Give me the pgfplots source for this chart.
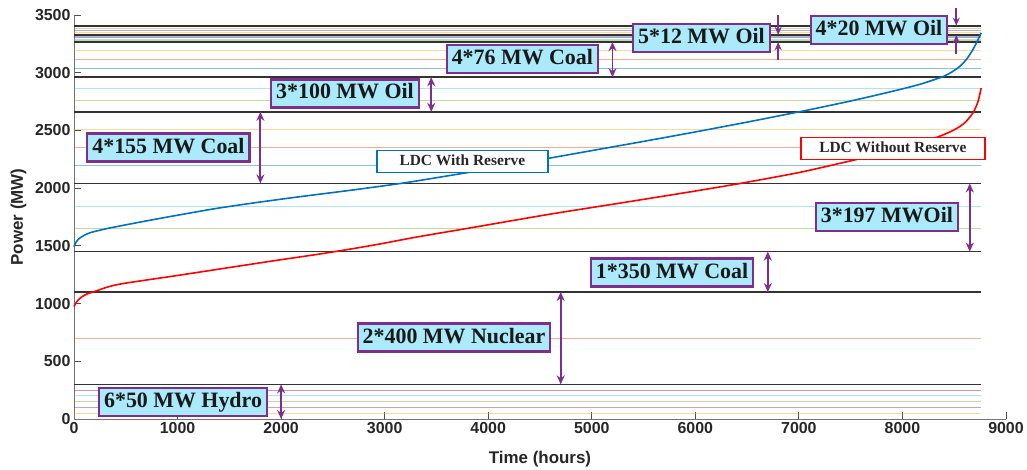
\documentclass[border=0pt]{standalone}
\usepackage{pgfplots}
\pgfplotsset{compat=1.18}
\usepackage{fontspec}
\setmainfont{Liberation Sans}
\newfontfamily\boxfont{Liberation Serif}
\usetikzlibrary{arrows.meta}
\definecolor{mblue}{RGB}{0,114,189}
\definecolor{morange}{RGB}{217,83,25}
\definecolor{myellow}{RGB}{237,177,32}
\definecolor{mpurple}{RGB}{126,47,142}
\definecolor{mgreen}{RGB}{119,172,48}
\definecolor{mlblue}{RGB}{77,190,238}
\definecolor{mred}{RGB}{162,20,47}
\definecolor{boxfill}{RGB}{170,234,250}
\definecolor{axgray}{RGB}{38,38,38}
\newcommand{\hl}[2]{\addplot[#1, line width=1bp, opacity=0.45, forget plot] coordinates {(0,#2) (8760,#2)};}
\newcommand{\bl}[1]{\addplot[black!80, line width=1.6bp, forget plot] coordinates {(0,#1) (8760,#1)};}
\tikzset{
  unitbox/.style={draw=mpurple, line width=2.2bp, fill=boxfill, inner xsep=5bp, inner ysep=4bp,
    text height=15.5bp, text depth=4.5bp, font=\boxfont\bfseries\fontsize{22}{22}\selectfont, text=black!90},
  ldcbox/.style={line width=1.3bp, fill=white, inner xsep=4bp, inner ysep=4bp,
    text height=11bp, text depth=3.5bp, font=\boxfont\bfseries\fontsize{15.5}{16}\selectfont, text=black!85},
  darr/.style={mpurple, line width=1.8bp, {Stealth[length=9bp,width=8bp]}-{Stealth[length=9bp,width=8bp]}},
  sarr/.style={mpurple, line width=1.8bp, -{Stealth[length=8bp,width=7bp]}},
}
\begin{document}
\begin{tikzpicture}
\useasboundingbox (-74bp,-51bp) rectangle (953bp,419bp);
\begin{axis}[
  at={(0,0)}, anchor=south west,
  scale only axis, width=932bp, height=404bp,
  xmin=0, xmax=9000, ymin=0, ymax=3500,
  xtick={0,1000,...,9000}, ytick={0,500,...,3500},
  xtick pos=bottom, ytick pos=left,
  axis x line*=bottom, axis y line*=left,
  axis line style={draw=black!55, line width=0.8bp, -},
  tick style={draw=black!70, line width=0.8bp}, major tick length=7bp,
  tick align=inside,
  ticklabel style={font=\bfseries\fontsize{16}{16}\selectfont, text=axgray},
  /pgf/number format/assume math mode=true,
  /pgf/number format/1000 sep={},
  xlabel={Time (hours)}, ylabel={Power (MW)},
  label style={font=\bfseries\fontsize{17}{17}\selectfont, text=axgray},
  xlabel style={at={(axis description cs:0.5,-0.099)}, anchor=center},
  ylabel style={at={(axis description cs:-0.0595,0.5)}, anchor=center},
  clip=false,
]
% unit lines (cumulative capacity)
\hl{myellow}{50}
\hl{mpurple}{100}
\hl{mgreen}{150}
\hl{mlblue}{200}
\hl{mred}{250}
\hl{morange}{700}
\hl{mgreen}{1647}
\hl{mlblue}{1844}
\hl{mblue}{2196}
\hl{morange}{2351}
\hl{myellow}{2506}
\hl{mgreen}{2761}
\hl{mlblue}{2861}
\hl{mblue}{3037}
\hl{morange}{3113}
\hl{myellow}{3189}
\hl{mgreen}{3277}
\hl{mlblue}{3289}
\hl{mred}{3301}
\hl{mblue}{3313}
\hl{myellow}{3345}
\hl{mpurple}{3365}
\hl{mgreen}{3385}
% block boundaries
\bl{300}
\bl{1100}
\bl{1450}
\bl{2041}
\bl{2661}
\bl{2961}
\bl{3265}
\bl{3325}
\bl{3405}
% LDC with reserve
\addplot[mblue, line width=1.6bp, smooth, tension=0.4] coordinates {
(0,1492) (15,1525) (45,1560) (100,1592) (160,1615) (320,1650) (650,1708) (966,1760)
(1380,1825) (1800,1880) (2200,1928) (2700,1985) (3187,2045) (3700,2120) (4200,2195)
(4580,2258) (5080,2338) (5500,2405) (6000,2487) (6500,2572) (7040,2668) (7500,2755)
(7900,2838) (8170,2900) (8390,2966) (8480,3008) (8560,3060) (8620,3118) (8670,3185)
(8710,3250) (8740,3305) (8760,3345)};
% LDC without reserve
\addplot[red, line width=1.6bp, smooth, tension=0.4] coordinates {
(0,973) (25,1015) (70,1055) (130,1085) (200,1105) (330,1145) (483,1175) (966,1239)
(1448,1305) (1931,1371) (2414,1435) (2897,1507) (3300,1575) (3790,1650) (4600,1775)
(5270,1870) (6000,1975) (6460,2045) (7000,2135) (7430,2222) (7900,2322) (8330,2440)
(8500,2505) (8600,2565) (8680,2650) (8730,2750) (8760,2868)};
% arrows
\draw[darr] (axis cs:2000,300) -- (axis cs:2000,0);
\draw[darr] (axis cs:4700,1100) -- (axis cs:4700,300);
\draw[darr] (axis cs:6700,1450) -- (axis cs:6700,1100);
\draw[darr] (axis cs:8650,2041) -- (axis cs:8650,1450);
\draw[darr] (axis cs:1800,2661) -- (axis cs:1800,2041);
\draw[darr] (axis cs:3450,2961) -- (axis cs:3450,2661);
\draw[darr] (axis cs:5200,3265) -- (axis cs:5200,2961);
\draw[sarr] (axis cs:6800,3500) -- (axis cs:6800,3328);
\draw[sarr] (axis cs:6800,3110) -- (axis cs:6800,3265);
\draw[sarr] (axis cs:8520,3560) -- (axis cs:8520,3408);
\draw[sarr] (axis cs:8520,3160) -- (axis cs:8520,3325);
% unit boxes
\node[unitbox] at (axis cs:1053,147) {6*50 MW Hydro};
\node[unitbox] at (axis cs:3670,706) {2*400 MW Nuclear};
\node[unitbox] at (axis cs:5775,1269) {1*350 MW Coal};
\node[unitbox] at (axis cs:7850,1750) {3*197 MWOil};
\node[unitbox] at (axis cs:912,2352) {4*155 MW Coal};
\node[unitbox] at (axis cs:2617,2820) {3*100 MW Oil};
\node[unitbox] at (axis cs:4330,3121) {4*76 MW Coal};
\node[unitbox] at (axis cs:6059,3303) {5*12 MW Oil};
\node[unitbox] at (axis cs:7773,3370) {4*20 MW Oil};
% curve labels
\node[ldcbox, draw=mblue, minimum width=171bp] at (axis cs:3751,2231) {LDC With Reserve};
\node[ldcbox, draw=red, minimum width=184bp] at (axis cs:7908,2343) {LDC Without Reserve};
\end{axis}
\end{tikzpicture}
\end{document}
